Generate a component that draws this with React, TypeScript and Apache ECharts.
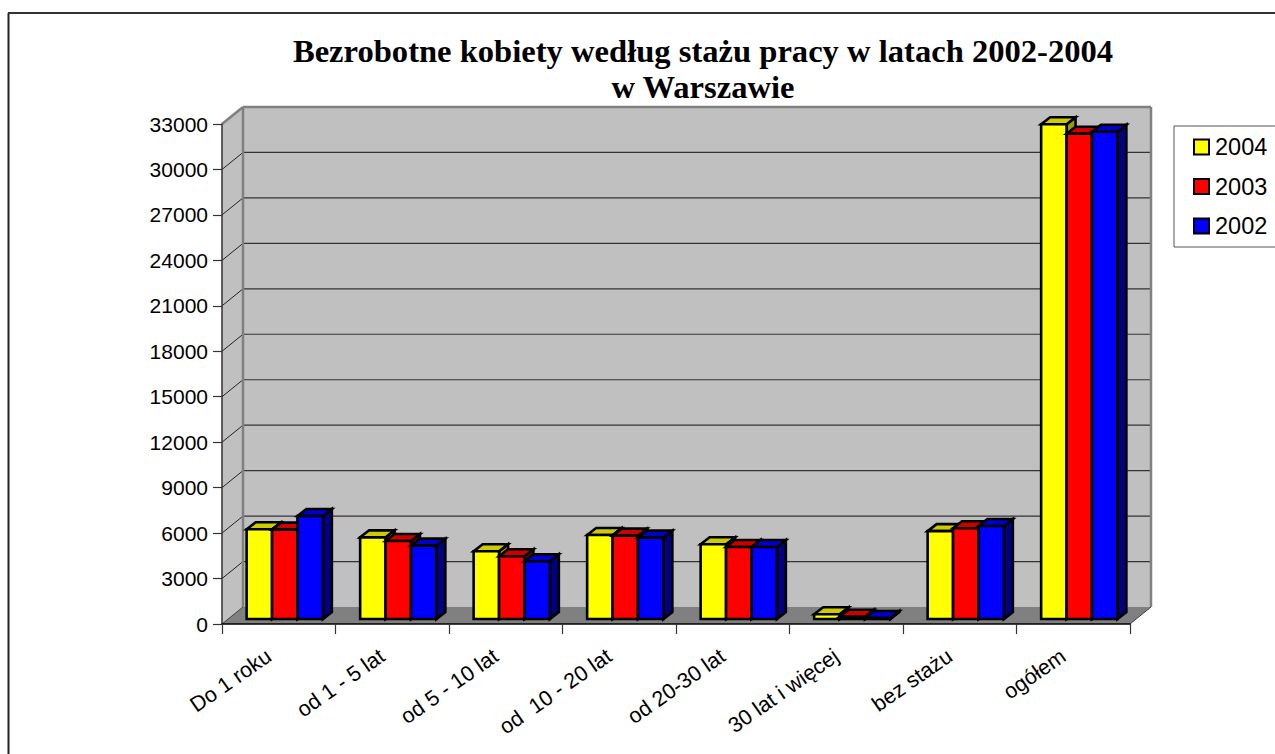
import React, { useEffect, useRef } from "react";
import * as echarts from "echarts";

const titleText = "Bezrobotne kobiety według stażu pracy w latach 2002-2004\nw Warszawie";
const categories = ["Do 1 roku", "od 1 - 5 lat", "od 5 - 10 lat", "od  10 - 20 lat", "od 20-30 lat", "30 lat i więcej", "bez stażu", "ogółem"];
const values2004 = [5920, 5390, 4470, 5540, 4930, 310, 5800, 32650];
const values2003 = [5900, 5150, 4140, 5500, 4750, 150, 5990, 32030];
const values2002 = [6800, 4840, 3810, 5370, 4750, 70, 6140, 32160];
const yTicks = [3000, 6000, 9000, 12000, 15000, 18000, 21000, 24000, 27000, 30000];
const yMax = 33000;
const yInterval = 3000;

const WALL_DX = 21;
const WALL_DY = -17;
const BAR_OFF_X = 6;
const BAR_OFF_Y = -5;
const BAR_DX = 9;
const BAR_DY = -7;
const BAR_W = 25.4;
const GREY = "#808080";

const line = (x1: number, y1: number, x2: number, y2: number, stroke: string, lineWidth: number) => ({
  type: "line",
  shape: { x1, y1, x2, y2 },
  style: { stroke, lineWidth, fill: "none" },
});
const poly = (points: number[][], fill: string, stroke: string, lineWidth: number) => ({
  type: "polygon",
  shape: { points },
  style: { fill, stroke, lineWidth, lineJoin: "miter" },
});

function renderWalls(params: any, _api: any) {
  const { x, y, width, height } = params.coordSys;
  const b = y + height;
  const r = x + width;
  return {
    type: "group",
    children: [
      poly([[x, y], [x + WALL_DX, y + WALL_DY], [x + WALL_DX, b + WALL_DY], [x, b]], "#c0c0c0", "none", 0),
      poly([[x + WALL_DX, y + WALL_DY], [r + WALL_DX, y + WALL_DY], [r + WALL_DX, b + WALL_DY], [x + WALL_DX, b + WALL_DY]], "#c0c0c0", "none", 0),
      poly([[x, b], [x + WALL_DX, b + WALL_DY], [r + WALL_DX, b + WALL_DY], [r, b]], GREY, "none", 0),
    ],
  };
}

function renderWallEdges(params: any, _api: any) {
  const { x, y, width, height } = params.coordSys;
  const b = y + height;
  const r = x + width;
  return {
    type: "group",
    children: [
      line(x, y, x + WALL_DX, y + WALL_DY, GREY, 2.5),
      line(x + WALL_DX, y + WALL_DY, r + WALL_DX, y + WALL_DY, GREY, 2.5),
      line(x + WALL_DX, y + WALL_DY, x + WALL_DX, b + WALL_DY, GREY, 2.5),
      line(r + WALL_DX, y + WALL_DY, r + WALL_DX, b + WALL_DY, GREY, 2.5),
      line(x, b, x + WALL_DX, b + WALL_DY, "#404040", 1),
      line(r, b, r + WALL_DX, b + WALL_DY, "#404040", 1),
    ],
  };
}

function renderGrid(params: any, api: any) {
  const { x, width } = params.coordSys;
  const yy = api.coord([0, api.value(0)])[1];
  return {
    type: "group",
    children: [
      line(x, yy, x + WALL_DX, yy + WALL_DY, "#222", 1),
      line(x + WALL_DX, yy + WALL_DY, x + width + WALL_DX, yy + WALL_DY, "#333", 1.2),
    ],
  };
}

const makeBarRenderer = (seriesIdx: number, front: string, top: string, side: string) => (_params: any, api: any) => {
  const p = api.coord([api.value(0), api.value(1)]);
  const base = api.coord([api.value(0), 0]);
  const xl = p[0] + BAR_OFF_X + (seriesIdx - 1.5) * BAR_W;
  const xr = xl + BAR_W;
  const yt = p[1] + BAR_OFF_Y;
  const yb = base[1] + BAR_OFF_Y;
  return {
    type: "group",
    children: [
      poly([[xr, yt], [xr + BAR_DX, yt + BAR_DY], [xr + BAR_DX, yb + BAR_DY], [xr, yb]], side, "#000", 2.6),
      poly([[xl, yt], [xl + BAR_DX, yt + BAR_DY], [xr + BAR_DX, yt + BAR_DY], [xr, yt]], top, "#000", 2.6),
      poly([[xl, yt], [xr, yt], [xr, yb], [xl, yb]], front, "#000", 2.6),
    ],
  };
};

const toPairs = (vals: number[]) => vals.map((v, i) => [i, v]);

export default function App() {
  const ref = useRef<HTMLDivElement>(null);
  useEffect(() => {
    const chart = echarts.init(ref.current!, null, { renderer: "svg" });
    const barSeries = (name: string, vals: number[], idx: number, front: string, top: string, side: string) => ({
      type: "custom",
      name,
      coordinateSystem: "cartesian2d",
      data: toPairs(vals),
      encode: { x: 0, y: 1 },
      itemStyle: { color: front },
      renderItem: makeBarRenderer(idx, front, top, side),
      z: 5 + idx,
      silent: true,
    });
    chart.setOption({
      animation: false,
      backgroundColor: "#fff",
      textStyle: { fontFamily: "Liberation Sans" },
      title: {
        text: titleText,
        left: 698,
        top: 28,
        textAlign: "center",
        textStyle: {
          fontFamily: "Liberation Serif",
          fontWeight: "bold",
          fontSize: 32.6,
          lineHeight: 36,
          color: "#000",
        },
      },
      legend: {
        orient: "vertical",
        left: 1174,
        top: 126,
        padding: [9, 60, 9, 19],
        data: ["2004", "2003", "2002"],
        icon: "rect",
        itemWidth: 15,
        itemHeight: 15,
        itemGap: 15.5,
        backgroundColor: "#fff",
        borderColor: "#555",
        borderWidth: 1,
        itemStyle: { borderColor: "#000", borderWidth: 2 },
        textStyle: { fontSize: 23.5, color: "#000", fontFamily: "Liberation Sans", padding: [0, 0, 0, 1] },
        selectedMode: false,
      },
      grid: { left: 222, top: 124, width: 908, height: 500, outerBoundsMode: "none", containLabel: false },
      xAxis: {
        type: "category",
        data: categories,
        boundaryGap: true,
        axisLine: { show: true, lineStyle: { color: "#000", width: 1.5 } },
        axisTick: { show: true, length: 10, lineStyle: { color: "#333", width: 1.2 }, alignWithLabel: false },
        axisLabel: { rotate: 35, interval: 0, fontSize: 21.5, color: "#000", margin: 23, padding: [0, 12, 0, 0], fontFamily: "Liberation Sans", hideOverlap: false },
        z: 20,
      },
      yAxis: {
        type: "value",
        min: 0,
        max: yMax,
        interval: yInterval,
        splitLine: { show: false },
        axisLine: { show: true, lineStyle: { color: "#333", width: 1.5 } },
        axisTick: { show: true, length: 9, lineStyle: { color: "#333", width: 1.2 } },
        axisLabel: { fontSize: 21, color: "#000", margin: 14, fontFamily: "Liberation Sans", hideOverlap: false, formatter: (v: number) => String(v) },
        z: 20,
      },
      graphic: [
        { type: "line", shape: { x1: 8.5, y1: 13, x2: 8.5, y2: 754 }, style: { stroke: "#222", lineWidth: 2 }, z: 30 },
        { type: "line", shape: { x1: 8, y1: 13, x2: 1275, y2: 13 }, style: { stroke: "#333", lineWidth: 2 }, z: 30 },
      ],
      series: [
        { type: "custom", name: "walls", coordinateSystem: "cartesian2d", data: [[0]], renderItem: renderWalls, z: 1, silent: true },
        { type: "custom", name: "grid", coordinateSystem: "cartesian2d", data: yTicks.map((v) => [v]), encode: { y: 0 }, renderItem: renderGrid, z: 2, silent: true },
        { type: "custom", name: "edges", coordinateSystem: "cartesian2d", data: [[0]], renderItem: renderWallEdges, z: 3, silent: true },
        barSeries("2004", values2004, 0, "#ffff00", "#cccc00", "#999900"),
        barSeries("2003", values2003, 1, "#ff0000", "#cc0000", "#800000"),
        barSeries("2002", values2002, 2, "#0000ff", "#0000cc", "#000080"),
      ],
    });
    return () => chart.dispose();
  }, []);
  return <div ref={ref} style={{ position: "absolute", left: 0, top: 0, width: 1275, height: 754 }} />;
}
